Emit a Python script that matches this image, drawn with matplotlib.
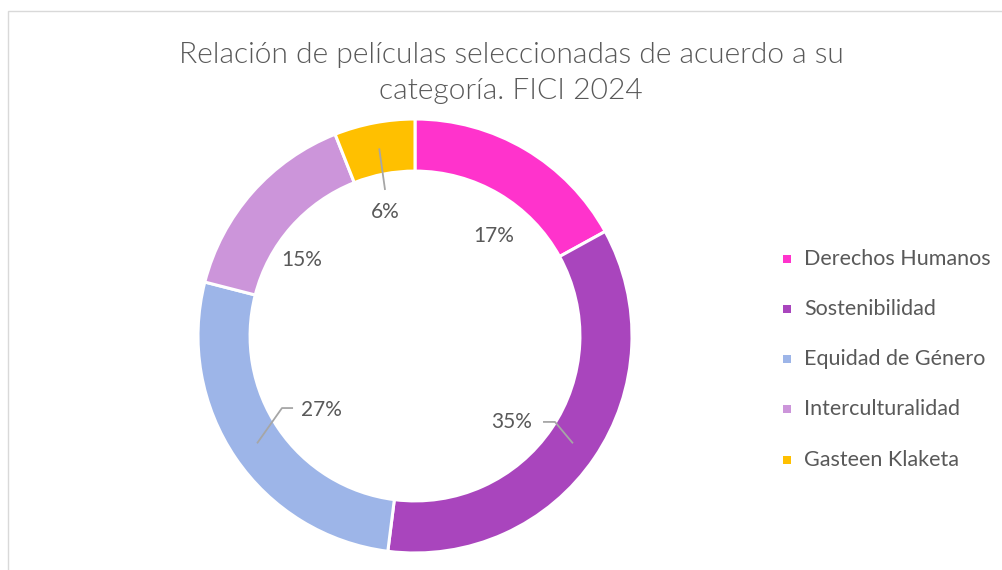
import numpy as np
import matplotlib
matplotlib.use("Agg")
import matplotlib.pyplot as plt
from matplotlib.patches import Rectangle

categories = ["Derechos Humanos", "Sostenibilidad", "Equidad de Género",
              "Interculturalidad", "Gasteen Klaketa"]
values = [17, 35, 27, 15, 6]
pct_labels = ["17%", "35%", "27%", "15%", "6%"]
title = "Relación de películas seleccionadas de acuerdo a su\ncategoría. FICI 2024"

colors = ["#FF33CC", "#A945BD", "#9DB5E8", "#CC95DA", "#FFC000"]
TXT = "#595959"
FONT = ["Lato", "DejaVu Sans"]

W, H = 1003, 570
fig = plt.figure(figsize=(W / 100, H / 100), dpi=100)
fig.patch.set_facecolor("white")

# chart-area border
fig.patches.append(Rectangle((8.5 / W, -0.1), 1.2, (H - 11.5) / H + 0.1,
                             transform=fig.transFigure, fill=False,
                             edgecolor="#D9D9D9", linewidth=1.0))

# donut axes, centre at (415, 336) px, outer radius 217 px
R_PX = 217
cx, cy = 415, H - 336
lim = 1.1
size = 2 * lim * R_PX
ax = fig.add_axes([(cx - size / 2) / W, (cy - size / 2) / H, size / W, size / H])

ring = 0.24
wedges, _ = ax.pie(values, colors=colors, startangle=90, counterclock=False,
                   radius=1.0,
                   wedgeprops=dict(width=ring, edgecolor="white", linewidth=2.2))
ax.set_xlim(-lim, lim)
ax.set_ylim(-lim, lim)
ax.set_aspect("equal")
ax.axis("off")

# label placement (style): text positions and leader-line elbows
label_pos = [(0.364, 0.461), (0.447, -0.396), (-0.429, -0.341),
             (-0.521, 0.350), (-0.138, 0.571)]
leaders = {
    1: [(0.590, -0.396), (0.645, -0.396), None],
    2: [(-0.562, -0.332), (-0.613, -0.332), None],
    4: [(-0.138, 0.673), None],
}
r_anchor = 0.88
for i, w in enumerate(wedges):
    mid = np.deg2rad((w.theta1 + w.theta2) / 2)
    anchor = (r_anchor * np.cos(mid), r_anchor * np.sin(mid))
    x, y = label_pos[i]
    ax.text(x, y, pct_labels[i], ha="center", va="center", fontsize=15,
            color=TXT, family=FONT)
    if i in leaders:
        pts = [p if p is not None else anchor for p in leaders[i]]
        xs, ys = zip(*pts)
        ax.plot(xs, ys, color="#A6A6A6", linewidth=1.3, solid_capstyle="butt")

fig.text(511 / W, 1 - 73 / H, title, ha="center", va="center",
         fontsize=21.6, color=TXT, family=FONT, weight=300, linespacing=1.5)

# legend
ys_leg = [259, 309, 359, 409, 460]
for c, lab, yy in zip(colors, categories, ys_leg):
    fig.patches.append(Rectangle((783 / W, 1 - (yy + 4) / H), 8 / W, 8 / H,
                                 transform=fig.transFigure, facecolor=c,
                                 edgecolor="none"))
    fig.text(804 / W, 1 - yy / H, lab, ha="left", va="center",
             fontsize=15.5, color=TXT, family=FONT)

fig.savefig("out.png", dpi=100, facecolor="white")
